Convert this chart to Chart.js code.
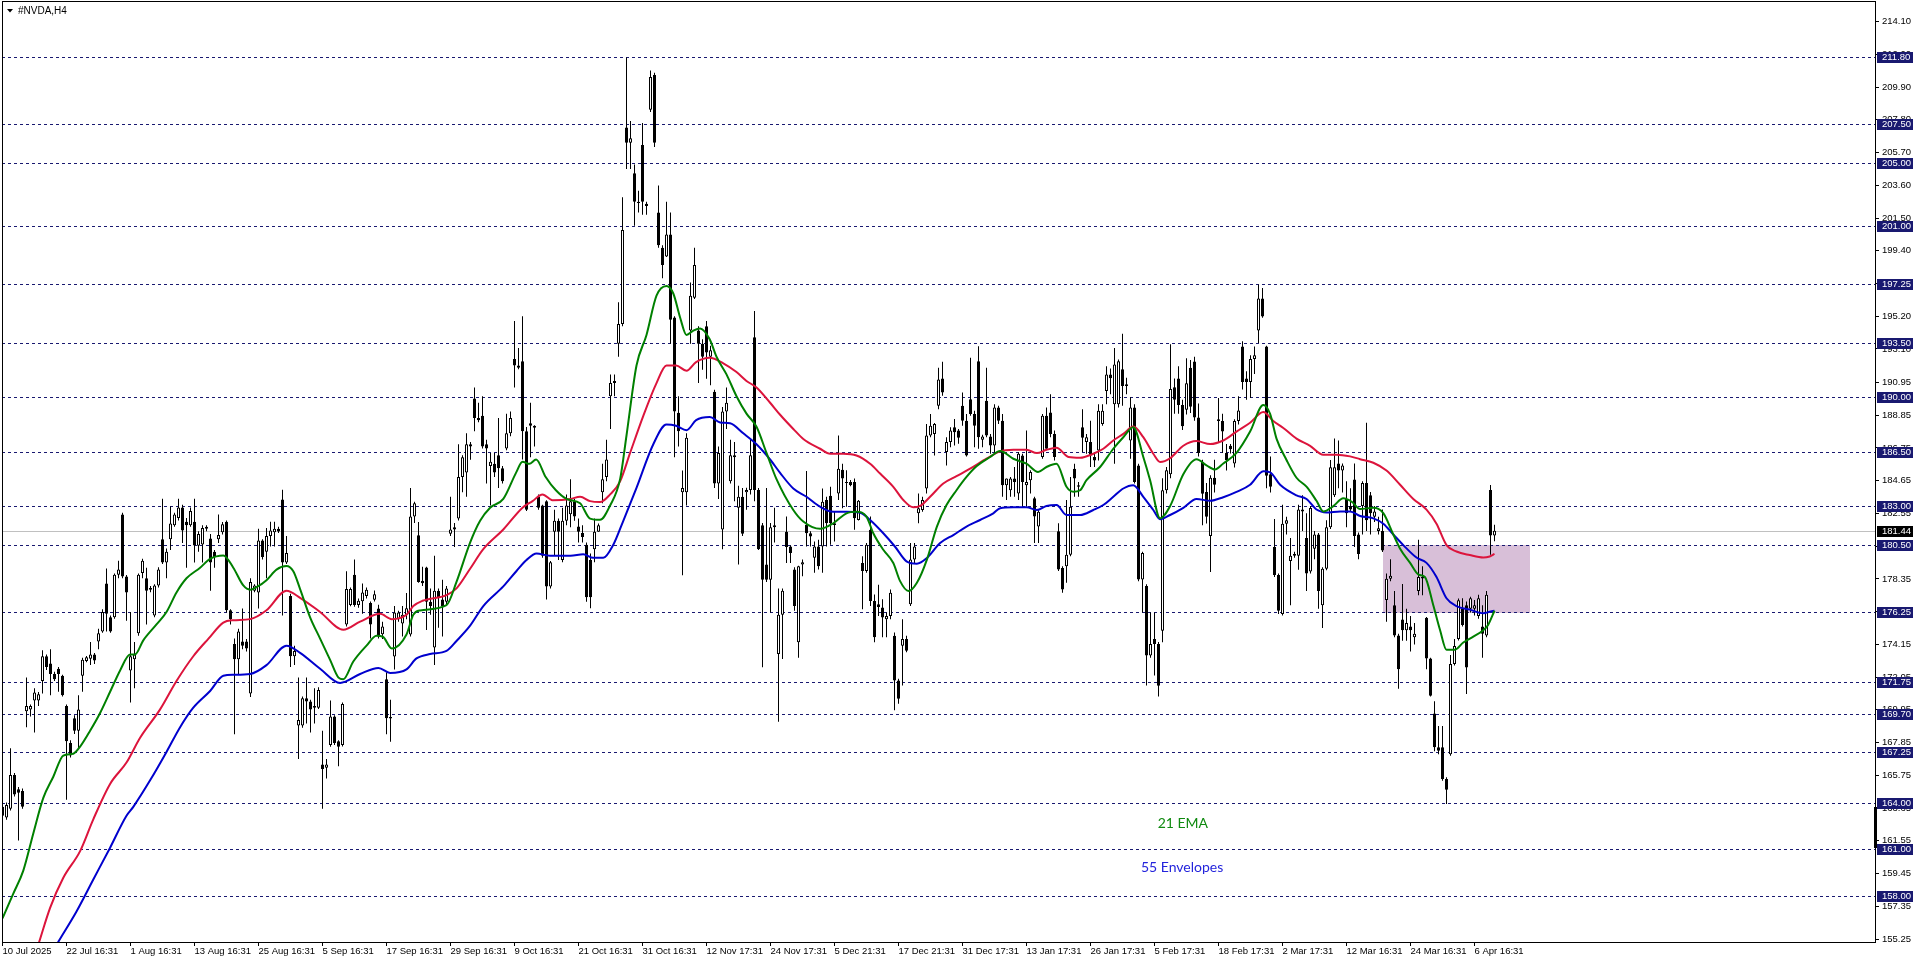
<!DOCTYPE html>
<html>
<head>
<meta charset="utf-8">
<title>#NVDA,H4</title>
<script src="https://cdn.jsdelivr.net/npm/chart.js@4.4.1/dist/chart.umd.min.js"></script>
<style>
  html, body { margin: 0; padding: 0; background: #fff; }
  canvas { display: block; }
</style>
</head>
<body>
<canvas id="nvdaChart" width="1916" height="963"></canvas>
<script>
// H4 candles, one entry per bar (bar 0 = 10 Jul 2025)
const opens = [
  163.73, 163.05, 163.61, 165.77, 164.86, 164.75, 169.86, 169.98, 170.55, 170.55,
  171.80, 173.39, 172.93, 172.25, 172.59, 172.14, 170.20, 167.82, 169.41, 168.61,
  172.14, 173.09, 173.23, 173.50, 174.34, 174.98, 178.05, 175.89, 175.89, 178.61,
  182.48, 178.50, 172.48, 173.20, 174.86, 178.73, 178.39, 177.65, 176.00, 177.93,
  180.89, 179.41, 180.89, 181.80, 182.25, 182.93, 182.02, 181.80, 182.02, 180.48,
  180.55, 181.69, 180.95, 180.09, 180.89, 181.34, 182.02, 176.34, 174.18, 173.20,
  174.34, 174.34, 171.00, 177.59, 177.48, 180.82, 180.09, 181.11, 181.34, 181.57,
  183.45, 179.41, 177.25, 173.39, 168.95, 168.95, 170.70, 170.48, 170.20, 170.09,
  166.45, 166.23, 167.70, 169.52, 167.93, 167.70, 175.43, 176.68, 178.61, 176.68,
  176.91, 177.25, 176.80, 177.02, 176.45, 174.80, 171.91, 169.50, 173.38, 175.77,
  175.49, 176.05, 174.79, 182.36, 181.15, 178.24, 179.08, 176.89, 173.95, 177.59,
  177.03, 176.89, 181.24, 181.66, 182.22, 184.89, 185.17, 186.99, 189.93, 188.67,
  188.81, 186.99, 185.59, 185.73, 186.29, 185.45, 186.71, 187.69, 192.46, 192.04,
  192.32, 187.83, 188.33, 188.17, 183.62, 183.06, 183.34, 177.87, 181.38, 182.08,
  179.56, 182.08, 182.50, 183.34, 181.71, 181.30, 180.54, 179.56, 180.26, 181.38,
  183.91, 184.89, 190.07, 190.91, 193.44, 194.70, 207.31, 206.33, 204.37, 202.55,
  206.19, 202.41, 208.44, 210.68, 201.85, 199.60, 199.04, 200.45, 195.12, 189.01,
  183.91, 183.91, 194.28, 196.38, 194.28, 193.44, 194.56, 192.60, 190.35, 184.47,
  181.52, 189.09, 184.61, 186.29, 182.92, 183.62, 183.91, 184.05, 193.86, 184.05,
  181.80, 179.28, 178.30, 181.80, 173.53, 176.05, 181.38, 180.43, 178.95, 174.28,
  179.27, 181.82, 181.28, 179.70, 180.43, 180.43, 183.41, 183.68, 181.92, 183.83,
  185.36, 184.57, 184.57, 184.57, 182.13, 179.37, 178.85, 181.50, 176.93, 176.72,
  176.51, 175.76, 175.97, 174.70, 171.83, 174.07, 174.49, 176.72, 179.59, 182.56,
  182.77, 184.15, 187.55, 187.65, 189.46, 191.20, 186.49, 187.13, 188.08, 187.87,
  189.46, 188.50, 189.88, 188.93, 192.32, 187.27, 189.78, 187.49, 186.91, 189.35,
  188.50, 184.36, 184.04, 184.79, 183.83, 186.27, 184.36, 184.68, 183.52, 181.71,
  186.17, 188.82, 189.03, 187.65, 181.40, 179.05, 179.16, 179.90, 185.42, 184.36,
  188.08, 187.13, 187.13, 186.17, 186.59, 188.29, 190.41, 191.47, 189.56, 189.56,
  191.80, 190.84, 187.23, 189.35, 185.63, 178.31, 177.89, 173.43, 174.49, 174.17,
  175.02, 184.04, 185.07, 190.64, 191.20, 189.50, 189.20, 191.90, 192.30, 188.71,
  185.87, 183.93, 181.10, 184.84, 188.48, 188.48, 186.43, 186.89, 185.75, 188.48,
  193.26, 191.21, 190.98, 192.46, 194.28, 196.33, 193.26, 185.07, 180.40, 178.60,
  176.10, 181.89, 179.50, 179.84, 179.84, 182.80, 180.98, 178.82, 180.29, 181.20,
  176.66, 179.00, 181.66, 183.71, 185.75, 185.30, 183.48, 183.02, 184.73, 181.20,
  183.02, 184.50, 183.71, 182.34, 181.43, 181.43, 177.00, 178.36, 176.66, 174.72,
  175.74, 175.06, 175.29, 174.61, 177.57, 178.48, 175.86, 173.24, 169.72, 167.55,
  167.55, 165.51, 167.10, 172.90, 174.50, 176.43, 176.66, 176.43, 176.43, 175.97,
  175.29, 174.72, 184.06, 181.13
];
const highs = [
  163.84, 164.00, 167.48, 165.90, 165.00, 164.90, 172.02, 170.30, 171.34, 171.10,
  173.77, 173.50, 173.84, 172.40, 172.70, 172.20, 170.30, 168.00, 169.60, 170.89,
  173.30, 173.40, 174.30, 173.60, 175.16, 176.40, 179.02, 176.00, 178.70, 179.52,
  182.60, 178.60, 176.23, 174.30, 178.70, 179.64, 179.07, 177.90, 178.00, 179.10,
  183.50, 180.30, 183.00, 182.60, 183.50, 183.10, 182.25, 182.93, 183.50, 181.40,
  181.80, 181.80, 181.23, 180.20, 182.48, 182.00, 182.10, 176.40, 174.52, 175.16,
  176.45, 174.50, 178.39, 178.00, 181.57, 180.90, 181.62, 182.02, 182.02, 181.70,
  184.07, 181.11, 177.40, 174.07, 172.02, 170.80, 172.02, 170.60, 171.34, 171.40,
  168.61, 166.80, 170.55, 169.60, 168.00, 170.43, 178.84, 177.80, 179.59, 177.10,
  178.05, 177.80, 176.90, 177.60, 176.70, 175.60, 172.36, 170.60, 176.61, 176.30,
  176.61, 177.45, 184.19, 183.30, 182.00, 179.13, 179.13, 177.74, 179.84, 177.74,
  178.30, 177.90, 183.62, 181.94, 186.99, 186.29, 187.69, 187.13, 190.63, 189.65,
  190.07, 187.27, 186.43, 186.43, 188.67, 185.60, 188.95, 189.09, 194.90, 193.16,
  195.20, 188.10, 189.65, 188.20, 183.77, 183.10, 183.40, 179.50, 182.78, 182.22,
  182.92, 183.77, 184.75, 183.48, 182.22, 181.80, 180.68, 179.98, 182.22, 181.90,
  185.73, 187.27, 191.47, 191.47, 196.10, 202.83, 211.80, 207.73, 204.93, 203.25,
  207.59, 202.55, 210.96, 210.82, 203.59, 199.75, 202.55, 201.85, 195.20, 190.07,
  185.30, 187.69, 197.36, 199.60, 194.56, 193.72, 194.90, 193.30, 190.49, 186.85,
  189.37, 190.63, 187.27, 187.13, 184.33, 184.19, 184.20, 187.27, 195.54, 184.19,
  181.94, 184.19, 181.94, 182.92, 177.74, 177.74, 182.35, 180.50, 179.10, 179.20,
  179.59, 185.27, 181.40, 180.75, 180.86, 184.15, 183.62, 184.26, 182.66, 187.55,
  185.74, 185.32, 184.70, 184.79, 183.41, 179.80, 180.65, 182.35, 177.35, 177.98,
  177.04, 176.19, 177.67, 174.91, 171.94, 175.76, 174.70, 180.65, 180.65, 183.83,
  183.62, 188.29, 188.93, 188.35, 191.90, 192.28, 187.44, 188.08, 188.61, 187.97,
  190.31, 188.93, 192.54, 189.14, 193.28, 187.60, 191.90, 187.65, 189.56, 189.46,
  188.93, 184.79, 184.89, 185.53, 186.49, 186.38, 187.87, 185.32, 183.62, 182.77,
  188.93, 189.35, 190.20, 187.87, 181.92, 179.16, 183.41, 184.89, 185.74, 184.57,
  189.24, 187.65, 188.50, 186.38, 189.56, 189.56, 192.00, 191.85, 193.17, 192.43,
  194.07, 191.26, 190.00, 189.56, 185.74, 180.10, 178.00, 176.19, 176.19, 174.30,
  184.80, 185.53, 193.40, 191.21, 192.00, 189.85, 192.50, 192.40, 192.60, 189.60,
  186.00, 184.50, 185.00, 186.00, 189.96, 188.94, 187.00, 187.00, 188.60, 190.07,
  193.60, 191.67, 192.69, 193.26, 197.24, 197.01, 193.30, 186.21, 182.20, 178.70,
  183.10, 182.34, 180.98, 180.10, 183.10, 183.71, 182.57, 183.02, 181.43, 181.30,
  179.10, 182.11, 185.98, 187.35, 187.23, 185.75, 184.62, 184.16, 185.75, 181.32,
  184.62, 188.36, 183.93, 183.02, 182.34, 182.80, 178.70, 179.61, 177.57, 174.84,
  178.02, 176.43, 175.97, 175.52, 180.86, 179.16, 175.90, 173.30, 170.51, 168.92,
  168.92, 165.62, 173.47, 174.50, 177.10, 177.11, 176.90, 177.20, 177.00, 177.34,
  176.66, 177.57, 184.37, 181.83
];
const lows = [
  161.23, 162.90, 163.50, 164.40, 161.57, 163.60, 168.84, 169.52, 168.50, 170.20,
  171.00, 172.50, 170.89, 171.80, 171.11, 170.80, 164.18, 166.90, 168.40, 167.48,
  171.11, 173.00, 172.82, 172.90, 173.84, 174.90, 174.98, 174.90, 175.80, 178.39,
  178.40, 175.66, 170.43, 171.34, 174.70, 178.39, 175.43, 177.50, 175.89, 177.80,
  179.30, 178.39, 180.20, 181.70, 182.10, 180.66, 179.07, 181.70, 179.41, 180.09,
  179.41, 181.40, 177.59, 179.07, 180.66, 181.20, 176.20, 175.43, 168.39, 172.25,
  173.84, 173.70, 170.77, 177.50, 176.45, 179.60, 178.39, 180.43, 180.43, 181.30,
  176.00, 179.30, 172.70, 172.82, 166.80, 168.80, 169.07, 168.50, 169.07, 170.00,
  163.61, 165.55, 167.59, 167.70, 166.34, 167.60, 175.30, 176.60, 176.57, 176.50,
  176.11, 177.10, 174.52, 176.90, 174.52, 174.50, 168.39, 167.90, 172.54, 175.60,
  174.65, 175.77, 174.65, 181.94, 178.10, 177.90, 175.07, 176.05, 172.82, 175.21,
  174.65, 176.70, 181.10, 180.40, 182.10, 183.91, 183.62, 186.00, 187.83, 188.40,
  186.71, 184.47, 183.06, 184.89, 184.19, 184.47, 186.60, 187.50, 190.63, 191.80,
  186.01, 182.70, 186.15, 186.85, 182.78, 179.70, 177.03, 177.74, 179.84, 179.56,
  179.42, 181.80, 181.66, 182.08, 180.68, 180.68, 176.89, 176.47, 179.42, 181.38,
  183.20, 184.61, 187.97, 190.07, 192.60, 194.56, 204.65, 204.65, 201.01, 201.85,
  201.71, 201.71, 208.30, 206.05, 199.60, 197.64, 199.00, 193.44, 186.15, 186.85,
  178.58, 183.06, 193.44, 196.30, 190.91, 191.76, 191.19, 190.77, 184.19, 183.48,
  180.26, 187.97, 184.47, 183.34, 179.28, 181.10, 182.78, 183.77, 183.34, 180.20,
  172.68, 178.16, 176.19, 180.68, 169.19, 173.22, 179.37, 179.37, 176.30, 173.30,
  178.52, 180.43, 180.43, 178.74, 178.95, 178.74, 180.43, 180.54, 180.75, 183.41,
  182.88, 182.98, 184.30, 181.50, 182.10, 176.40, 178.74, 176.61, 174.28, 175.97,
  174.60, 174.60, 175.76, 169.93, 170.35, 171.52, 173.64, 176.61, 179.37, 181.92,
  182.66, 183.83, 187.44, 186.27, 189.24, 190.10, 185.63, 186.80, 186.91, 187.02,
  188.18, 186.20, 188.82, 186.80, 186.70, 186.80, 187.44, 186.38, 186.38, 188.29,
  183.62, 183.41, 183.62, 183.62, 183.41, 182.98, 182.98, 183.83, 180.65, 180.65,
  186.06, 186.70, 187.44, 185.95, 178.85, 177.46, 178.10, 179.80, 183.62, 183.62,
  186.49, 186.38, 185.53, 185.53, 185.95, 188.18, 189.56, 190.20, 185.74, 189.35,
  189.46, 190.20, 186.06, 184.47, 178.20, 176.19, 171.52, 173.30, 172.16, 170.80,
  174.28, 183.83, 184.80, 188.94, 188.94, 187.90, 188.90, 189.00, 188.50, 186.20,
  181.80, 181.90, 178.80, 183.90, 187.12, 186.43, 185.30, 186.40, 185.50, 188.25,
  190.50, 189.85, 189.96, 191.50, 193.49, 195.10, 184.16, 183.90, 178.48, 176.10,
  176.00, 181.20, 176.66, 179.70, 178.93, 181.43, 177.57, 178.70, 179.61, 176.43,
  175.20, 178.90, 181.55, 183.60, 184.16, 183.90, 181.66, 182.70, 180.40, 179.61,
  181.20, 181.43, 181.20, 182.00, 181.20, 180.07, 175.60, 178.20, 174.60, 171.30,
  174.38, 174.38, 173.70, 174.15, 177.30, 177.30, 172.56, 170.80, 167.30, 167.10,
  165.40, 163.91, 167.00, 172.80, 174.40, 175.30, 170.96, 176.20, 176.00, 175.80,
  173.30, 174.60, 179.90, 180.77
];
const closes = [
  163.16, 163.84, 165.77, 164.52, 164.64, 163.73, 170.20, 170.20, 171.07, 170.95,
  173.39, 172.70, 172.25, 171.91, 172.25, 170.89, 167.93, 167.02, 168.61, 169.98,
  173.16, 173.32, 173.50, 173.12, 174.86, 176.23, 176.11, 174.98, 178.61, 178.95,
  178.50, 177.48, 173.39, 173.50, 178.61, 179.52, 177.59, 177.76, 177.93, 178.95,
  179.41, 180.09, 181.91, 182.48, 182.93, 181.46, 181.80, 182.70, 180.50, 181.23,
  181.62, 181.57, 179.41, 179.75, 181.16, 181.85, 176.34, 175.77, 173.20, 174.98,
  174.07, 173.89, 178.16, 177.93, 180.82, 179.75, 181.11, 181.46, 181.57, 181.39,
  179.41, 180.02, 173.39, 173.73, 169.30, 170.70, 170.48, 169.98, 170.09, 171.23,
  166.16, 166.45, 169.52, 167.82, 167.59, 170.32, 177.70, 177.70, 176.68, 176.95,
  177.48, 177.65, 175.43, 177.36, 174.75, 175.30, 169.41, 169.40, 176.19, 176.19,
  176.05, 176.47, 182.36, 183.20, 178.16, 178.07, 176.89, 176.61, 177.59, 177.17,
  176.61, 177.74, 181.52, 181.52, 184.89, 186.15, 186.99, 186.85, 188.67, 188.53,
  186.85, 186.71, 185.87, 185.17, 185.45, 184.61, 187.69, 188.67, 192.04, 191.90,
  187.83, 182.78, 188.17, 188.05, 182.92, 179.84, 177.87, 179.42, 182.08, 181.38,
  182.08, 183.06, 183.34, 182.36, 181.38, 181.04, 177.17, 177.17, 181.38, 181.80,
  184.75, 186.01, 190.91, 191.05, 194.70, 200.73, 206.33, 206.61, 202.55, 202.46,
  202.55, 202.27, 210.54, 206.33, 199.75, 198.48, 200.45, 194.98, 189.09, 187.83,
  184.19, 187.41, 196.52, 198.48, 193.44, 192.60, 192.88, 193.02, 184.47, 186.43,
  189.09, 189.65, 186.29, 186.15, 183.62, 181.24, 184.05, 186.29, 184.05, 180.26,
  178.30, 178.30, 181.66, 181.66, 176.05, 177.59, 180.40, 180.01, 176.61, 179.16,
  179.42, 181.28, 181.07, 180.43, 179.16, 183.30, 181.92, 181.92, 181.81, 185.42,
  184.79, 184.51, 184.36, 182.24, 183.36, 178.85, 180.54, 176.93, 174.60, 176.55,
  175.87, 175.97, 177.46, 171.83, 170.67, 174.49, 173.75, 179.59, 180.43, 182.88,
  183.41, 187.55, 188.18, 188.29, 191.15, 190.31, 187.13, 187.87, 187.76, 187.40,
  188.50, 186.27, 188.93, 188.18, 187.44, 187.49, 187.55, 186.91, 189.35, 188.50,
  184.36, 184.79, 184.79, 184.57, 186.38, 184.57, 184.57, 185.21, 182.35, 182.66,
  188.82, 186.70, 187.65, 186.17, 178.95, 177.67, 179.90, 182.98, 184.79, 184.26,
  187.40, 187.44, 186.27, 185.95, 189.14, 189.14, 191.47, 191.22, 192.11, 192.32,
  190.73, 190.73, 189.35, 184.57, 178.31, 180.01, 173.43, 174.17, 174.17, 171.50,
  184.04, 185.32, 190.53, 189.85, 189.50, 188.14, 190.90, 189.40, 188.70, 186.43,
  183.82, 182.34, 184.84, 184.39, 188.60, 187.80, 185.98, 186.66, 188.48, 189.16,
  190.98, 190.98, 192.46, 192.69, 196.33, 195.19, 184.96, 184.27, 178.60, 176.30,
  181.89, 182.11, 179.84, 179.95, 182.80, 182.68, 178.70, 182.90, 181.20, 177.57,
  179.00, 181.66, 185.52, 185.52, 185.30, 185.63, 182.57, 182.80, 181.10, 179.95,
  184.50, 182.11, 182.57, 182.68, 181.60, 180.18, 178.36, 178.55, 174.72, 172.56,
  175.06, 175.52, 175.06, 174.84, 178.48, 178.37, 173.24, 170.85, 167.55, 167.33,
  165.51, 164.83, 172.90, 174.04, 176.98, 175.40, 172.67, 177.11, 176.66, 177.11,
  174.84, 177.34, 181.13, 181.44
];

// indicator lines (bar index, price)
const emaBars = [
  0, 2.7, 5.2, 7.7, 10.2, 12.7, 15.2, 17.7, 19.4, 21.9, 24.4, 26.9, 29.4, 31.9, 33.1, 35.2, 38.5, 41, 43.5, 46,
  49.4, 51.9, 55.2, 57.7, 60.2, 61.9, 63.5, 66, 68.5, 71, 72.7, 74.4, 76.9, 79.4, 81.9, 84, 85.2, 87.7, 91, 93.5,
  95.1, 97.3,
  101, 102.7, 104.4, 111, 113.5, 116.9, 119.4, 121.9, 125.2, 128.4, 130, 131.7, 133.4, 135.8, 138.3, 141, 144.4, 146.9, 149.4, 151.9,
  154.4, 156, 158.5, 161, 163.5, 166, 167.7, 169.4, 171, 172.7, 174.4, 176.8, 178.5, 181, 183.5, 186, 188.5, 191, 193.5,
  197.7, 200.2, 204.4, 207.7, 211, 213.5, 216, 217.7, 220.2, 222.7, 224.4, 226.5, 228.6, 231.1, 233.6, 236, 238.5, 241, 243.5, 246.9,
  249.4, 252.7, 256, 258.9, 261, 263.5, 266, 267.7, 269.4, 271, 274.4, 277.7, 280.2, 282.7, 285.2, 286.9, 289.4,
  291.9, 295.2, 298.5, 301, 303.1, 305.2, 308.5, 311.9, 315.2, 316.9, 318.5, 321, 323.5, 326, 328.5, 330.2, 332.7, 335.2, 337.3, 339.4,
  342.7, 345.2, 347.7, 349.4, 351.9, 354, 355.6, 357.7, 359.4, 361, 363.1, 365.2, 367.7, 370.2, 371.4, 373
];
const emaValues = [
  156.57, 158.16, 159.64, 162.02, 164.30, 165.66, 167.02, 167.14, 167.59, 168.61, 169.75, 171.11, 172.48, 173.50, 173.50, 174.41, 175.43, 176.23, 177.48, 178.39,
  179.07, 179.64, 179.86, 179.07, 177.93, 177.66, 177.82, 178.27, 178.95, 179.18, 178.84, 177.70, 175.89, 174.52, 173.16, 172.02, 171.91, 173.05, 174.07, 174.70,
  174.64, 173.89,
  174.79, 176.05, 176.33, 176.67, 178.16, 180.68, 182.08, 182.92, 183.48, 185.17, 185.87, 185.73, 186.01, 184.89, 184.05, 183.48, 183.20, 182.22, 182.14, 183.06,
  184.75, 187.55, 192.04, 194.00, 196.52, 197.14, 196.66, 195.12, 194.00, 194.28, 194.42, 193.72, 192.60, 191.47, 190.07, 188.95, 188.11, 186.43, 184.75,
  182.77, 182.03, 181.56, 181.92, 182.56, 182.66, 182.35, 181.28, 180.22, 179.37, 178.21, 177.57, 178.10, 179.59, 181.71, 183.09, 184.04, 184.89, 185.57, 186.17,
  186.55, 186.06, 185.74, 185.21, 185.53, 185.74, 184.26, 183.94, 184.04, 184.68, 185.53, 186.70, 187.44, 188.08, 186.17, 184.68, 182.24,
  183.02, 185.07, 186.03, 185.64, 185.37, 185.75, 186.43, 187.80, 189.51, 188.94, 187.35, 185.98, 184.84, 184.27, 183.36, 182.68, 183.02, 183.52, 183.30, 182.84,
  182.91, 182.57, 181.20, 180.29, 179.38, 178.63, 178.47, 176.66, 175.06, 173.81, 173.81, 174.27, 174.65, 175.06, 175.40, 176.31
];
const upperBars = [
  7.5, 9.2, 11.9, 15.2, 19.4, 22.7, 26.9, 31, 34.4, 39.4, 43.5, 47.7, 51.5, 55.2, 57.7, 61.9, 66, 71, 74.4, 79.4, 85.2, 89.4, 94.4, 97.3,
  101, 102.7, 105, 111, 113.5, 116.9, 120.2, 125.2, 130, 132.5, 135, 137.5, 142, 144.4, 146.9, 149.4, 151.9, 154.4, 156.9, 160.2,
  163.5, 166, 168.4, 171, 173.4, 176.8, 180.2, 183.5, 186, 188.5, 191.9,
  194.4, 197.7, 200.2, 204.4, 206.9, 210.2, 213.5, 216.9, 219.4, 222.7, 225.2, 227.7, 229.4, 231.9, 235.2, 238.5, 241.9, 246, 249.4, 252.7,
  256, 258.6, 261, 263.5, 266.5, 269.4, 272.7, 275.2, 277.7, 280.2, 282.7, 285.2, 287.7, 289.4,
  291.9, 295.2, 298.5, 301.9, 305.2, 308.5, 311.9, 315.2, 317.7, 320.2, 323.5, 326.9, 330.2, 333.5, 336.9, 339.4, 342.7, 346, 349.4, 352.7,
  356, 358.5, 361, 363.5, 366.8, 370.2, 371.8, 373
];
const upperValues = [
  153.70, 155.09, 157.25, 159.18, 160.89, 162.93, 165.20, 166.57, 168.16, 169.98, 171.80, 173.39, 174.52, 175.55, 175.70, 175.77, 176.34, 177.59, 177.14, 176.23, 175.09, 175.61, 176.11, 175.77,
  176.05, 176.61, 176.95, 177.31, 177.74, 179.00, 180.26, 181.52, 182.92, 183.34, 183.77, 183.40, 183.48, 183.62, 183.34, 183.28, 183.77, 184.61, 186.43, 188.81,
  190.91, 192.04, 192.04, 191.70, 192.26, 192.54, 192.18, 191.62, 191.05, 190.63, 189.65,
  188.88, 187.97, 187.33, 186.70, 186.38, 186.38, 186.27, 185.74, 185.11, 184.26, 183.41, 182.94, 183.03, 183.62, 184.47, 184.94, 185.42, 186.06, 186.53, 186.63,
  186.63, 186.42, 186.63, 186.76, 186.17, 186.12, 186.38, 186.70, 187.23, 187.65, 188.12, 187.44, 186.38, 185.85,
  186.09, 186.89, 187.19, 187.00, 187.23, 187.80, 188.37, 189.05, 188.48, 188.03, 187.35, 186.89, 186.32, 186.32, 186.21, 186.03, 185.80, 185.30, 184.39, 183.48,
  182.80, 181.89, 180.52, 180.11, 179.88, 179.72, 179.79, 179.95
];
const lowerBars = [
  12, 14, 18.5, 22.7, 26.9, 31, 32.7, 36.9, 41, 44.4, 47.7, 51.9, 55.2, 57.7, 61.9, 66, 71, 74.4, 79.4, 84.4, 89.4, 94, 96.9,
  101, 103.5, 106.9, 111, 113.5, 116.9, 120.2, 125.2, 128.5, 131, 133.5, 136.8, 142, 145.2, 147.7, 150.2, 152.7, 155.2, 158.5, 162.7,
  166, 168.4, 171, 173.4, 176.8, 179.4, 181.9, 185.2, 188.5, 191.9,
  194.4, 197.7, 201, 204.4, 207.7, 211, 214.4, 216.9, 220.2, 223.1, 226, 228.6, 231.1, 234.4, 237.8, 241, 244.4, 247.7, 249.4, 252.7,
  256, 258.6, 261, 263.5, 266, 269.4, 272.7, 275.2, 277.7, 280.2, 282.7, 285.2, 287.7, 289.4,
  291.9, 295.2, 298.5, 301.9, 305.2, 308.5, 311.9, 315.2, 316.9, 319.4, 323.5, 326, 328.5, 331, 334.4, 336.9, 339.4, 342.7, 345.2, 347.7,
  350.2, 353.5, 356, 358.5, 361, 363.5, 366.8, 370.2, 371.8, 373
];
const lowerValues = [
  154.20, 155.09, 157.02, 159.07, 161.11, 163.16, 163.73, 165.43, 167.25, 168.84, 170.09, 171.16, 172.14, 172.20, 172.25, 172.82, 174.07, 173.61, 172.59, 171.68, 172.25, 172.64, 172.32,
  172.55, 173.25, 173.53, 173.73, 174.37, 175.35, 176.61, 177.87, 178.86, 179.56, 179.98, 179.84, 179.84, 179.93, 179.70, 179.70, 180.54, 182.08, 184.19, 186.99,
  188.25, 188.17, 187.89, 188.53, 188.73, 188.39, 188.33, 187.69, 186.99, 186.01,
  185.15, 184.15, 183.62, 182.98, 182.66, 182.66, 182.60, 182.13, 181.28, 180.43, 179.48, 179.33, 179.69, 180.65, 181.18, 181.71, 182.13, 182.56, 182.88, 182.94,
  182.94, 182.77, 183.03, 183.09, 182.45, 182.45, 182.77, 183.09, 183.62, 184.15, 184.36, 183.62, 182.77, 182.18,
  182.45, 182.91, 183.48, 183.36, 183.59, 183.93, 184.39, 185.25, 185.18, 184.39, 183.71, 183.48, 182.80, 182.61, 182.68, 182.68, 182.39, 182.23, 181.89, 181.20,
  180.52, 179.72, 179.38, 178.47, 177.11, 176.61, 176.38, 176.15, 176.24, 176.31
];

// horizontal levels, price axis ticks, time axis labels
const levels = [211.80, 207.50, 205.00, 201.00, 197.25, 193.50, 190.00, 186.50, 183.00,
                180.50, 176.25, 171.75, 169.70, 167.25, 164.00, 161.00, 158.00];
const lastPrice = 181.44;
const priceTicks = [214.10, 212.00, 209.90, 207.80, 205.70, 203.60, 201.50, 199.40, 197.30, 195.20,
                    193.10, 190.95, 188.85, 186.75, 184.65, 182.55, 180.45, 178.35, 176.25, 174.15,
                    172.05, 169.95, 167.85, 165.75, 163.65, 161.55, 159.45, 157.35, 155.25];
const timeLabels = ['10 Jul 2025', '22 Jul 16:31', '1 Aug 16:31', '13 Aug 16:31', '25 Aug 16:31', '5 Sep 16:31',
                    '17 Sep 16:31', '29 Sep 16:31', '9 Oct 16:31', '21 Oct 16:31', '31 Oct 16:31', '12 Nov 17:31',
                    '24 Nov 17:31', '5 Dec 21:31', '17 Dec 21:31', '31 Dec 17:31', '13 Jan 17:31', '26 Jan 17:31',
                    '5 Feb 17:31', '18 Feb 17:31', '2 Mar 17:31', '12 Mar 16:31', '24 Mar 16:31', '6 Apr 16:31'];
const timeLabelBars = timeLabels.map((_, k) => k * 16);
const zoneBars = [345.2, 382.05];
const zonePrices = [180.55, 176.20];

const bodies = opens.map((o, i) => ({ x: i, y: [o, closes[i]] }));
const wicks = lows.map((l, i) => ({ x: i, y: [l, highs[i]] }));
const bodyFill = opens.map((o, i) => closes[i] >= o ? '#ffffff' : '#000000');
const toPoints = (xs, ys) => xs.map((x, i) => ({ x: x, y: ys[i] }));

const NAVY = '#191970';
const axisFont = { family: 'Liberation Sans', size: 9.5 };

const mtOverlay = {
  id: 'mtOverlay',
  beforeDatasetsDraw(chart) {
    const { ctx, chartArea: a, scales: { x, y } } = chart;
    ctx.save();
    // support zone
    const zx0 = x.getPixelForValue(zoneBars[0]);
    const zx1 = x.getPixelForValue(zoneBars[1]);
    const zy0 = y.getPixelForValue(zonePrices[0]);
    const zy1 = y.getPixelForValue(zonePrices[1]);
    ctx.fillStyle = '#d8bfd8';
    ctx.fillRect(Math.round(zx0), Math.round(zy0), Math.round(zx1 - zx0), Math.round(zy1 - zy0));
    // bid line
    ctx.lineWidth = 1;
    ctx.strokeStyle = '#c0c0c0';
    const by = Math.round(y.getPixelForValue(lastPrice)) + 0.5;
    ctx.beginPath(); ctx.moveTo(a.left, by); ctx.lineTo(a.right, by); ctx.stroke();
    // dashed horizontal levels
    ctx.strokeStyle = NAVY;
    ctx.setLineDash([3, 3]);
    levels.forEach(p => {
      const py = Math.round(y.getPixelForValue(p)) + 0.5;
      ctx.beginPath(); ctx.moveTo(a.left, py); ctx.lineTo(a.right, py); ctx.stroke();
    });
    ctx.restore();
  },
  afterDraw(chart) {
    const { ctx, chartArea: a, scales: { x, y } } = chart;
    ctx.save();
    // frame
    ctx.strokeStyle = '#000';
    ctx.lineWidth = 1;
    ctx.strokeRect(a.left + 0.5, 1.5, a.right - a.left, a.bottom - 1);
    ctx.fillStyle = '#000';
    const sy0 = y.getPixelForValue(163.70), sy1 = y.getPixelForValue(161.05);
    ctx.fillRect(a.right - 1, Math.round(sy0), 3, Math.round(sy1 - sy0));
    // symbol caption
    ctx.beginPath(); ctx.moveTo(7, 9); ctx.lineTo(13, 9); ctx.lineTo(10, 12.5); ctx.closePath(); ctx.fill();
    ctx.font = '10px "Liberation Sans"';
    ctx.textBaseline = 'middle';
    ctx.textAlign = 'left';
    ctx.fillText('#NVDA,H4', 18, 11);
    // level tags on the price axis
    ctx.font = '9.5px "Liberation Sans"';
    levels.forEach(p => {
      const py = Math.round(y.getPixelForValue(p));
      ctx.fillStyle = NAVY;
      ctx.fillRect(a.right + 2, py - 5, 36, 11);
      ctx.fillStyle = '#fff';
      ctx.fillText(p.toFixed(2), a.right + 7, py + 0.5);
    });
    const cy = Math.round(y.getPixelForValue(lastPrice));
    ctx.fillStyle = '#000';
    ctx.fillRect(a.right + 2, cy - 5, 36, 11);
    ctx.fillStyle = '#fff';
    ctx.fillText(lastPrice.toFixed(2), a.right + 7, cy + 0.5);
    // indicator captions
    ctx.font = '14px Lato';
    ctx.textAlign = 'center';
    ctx.fillStyle = '#0f8a0f';
    ctx.fillText('21 EMA', x.getPixelForValue(295.1), y.getPixelForValue(162.64));
    ctx.fillStyle = '#2424dc';
    ctx.fillText('55 Envelopes', x.getPixelForValue(294.9), y.getPixelForValue(159.83));
    ctx.restore();
  }
};

const lineStyle = { type: 'line', borderWidth: 2, pointRadius: 0, cubicInterpolationMode: 'monotone', order: 0 };

new Chart(document.getElementById('nvdaChart').getContext('2d'), {
  type: 'bar',
  data: {
    datasets: [
      Object.assign({ label: '21 EMA', data: toPoints(emaBars, emaValues), borderColor: '#008000' }, lineStyle),
      Object.assign({ label: 'Envelope upper', data: toPoints(upperBars, upperValues), borderColor: '#dc143c' }, lineStyle),
      Object.assign({ label: 'Envelope lower', data: toPoints(lowerBars, lowerValues), borderColor: '#0000cd' }, lineStyle),
      {
        label: 'bodies', data: bodies, backgroundColor: bodyFill, borderColor: '#000', borderWidth: 1,
        borderSkipped: false, barThickness: 3, maxBarThickness: 3, minBarLength: 1, inflateAmount: 0,
        grouped: false, order: 1
      },
      {
        label: 'wicks', data: wicks, backgroundColor: '#000', borderWidth: 0,
        barThickness: 1, maxBarThickness: 1, inflateAmount: 0, grouped: false, order: 2
      }
    ]
  },
  options: {
    responsive: false,
    animation: false,
    devicePixelRatio: 1,
    layout: { padding: { left: 2, top: 2, right: 0, bottom: 0 } },
    plugins: { legend: { display: false }, tooltip: { enabled: false } },
    scales: {
      x: {
        type: 'linear',
        offset: false,
        min: -0.125,
        max: 468.125,
        afterBuildTicks: (scale) => { scale.ticks = timeLabelBars.map(v => ({ value: v })); },
        afterFit: (scale) => { scale.height = 21; },
        grid: { display: true, offset: false, drawOnChartArea: false, tickLength: 4, color: '#000' },
        border: { display: false },
        ticks: {
          autoSkip: false, maxRotation: 0, align: 'start', padding: 0, color: '#000', font: axisFont,
          callback: (v, i) => timeLabels[i]
        }
      },
      y: {
        position: 'right',
        min: 155.059,
        max: 214.928,
        afterBuildTicks: (scale) => { scale.ticks = priceTicks.map(v => ({ value: v })); },
        afterFit: (scale) => { scale.width = 41; },
        grid: { display: true, drawOnChartArea: false, tickLength: 4, color: '#000' },
        border: { display: false },
        ticks: {
          autoSkip: false, padding: 3, color: '#000', font: axisFont,
          callback: (v) => Number(v).toFixed(2)
        }
      }
    }
  },
  plugins: [mtOverlay]
});
</script>
</body>
</html>
